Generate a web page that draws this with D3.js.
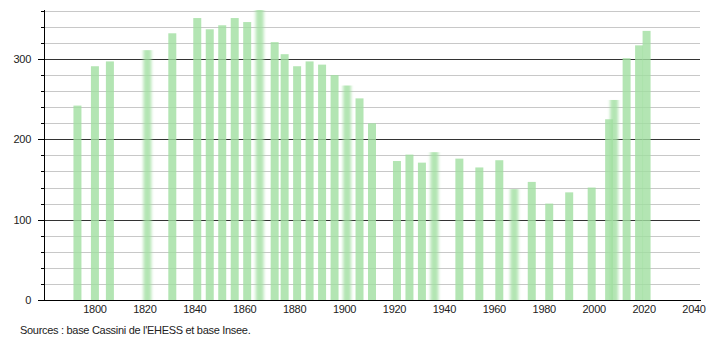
<!DOCTYPE html>
<html>
<head>
<meta charset="utf-8">
<script src="https://cdn.jsdelivr.net/npm/d3@7"></script>
<style>
  body { margin: 0; background: #fff; }
  text { font-family: "Liberation Sans", Arial, sans-serif; fill: #222; letter-spacing: -0.3px; }
</style>
</head>
<body>
<div id="my_dataviz"></div>
<script>
// census years and population
var years = [1793, 1800, 1806, 1821, 1831, 1841, 1846, 1851, 1856, 1861, 1866, 1872,
             1876, 1881, 1886, 1891, 1896, 1901, 1906, 1911, 1921, 1926, 1931, 1936,
             1946, 1954, 1962, 1968, 1975, 1982, 1990, 1999, 2006, 2008, 2013, 2018, 2021];
var population = [242, 291, 297, 311, 332, 351, 337, 342, 351, 346, 361, 321,
                  306, 291, 297, 293, 280, 267, 251, 220, 173, 181, 171, 184,
                  176, 165, 174, 138, 147, 120, 134, 140, 225, 249, 301, 317, 335];
// bars drawn soft in the original
var blurred = [1821, 1866, 1901, 1936, 1968, 2008];

var xTicks = [1800, 1820, 1840, 1860, 1880, 1900, 1920, 1940, 1960, 1980, 2000, 2020, 2040];
var yMajor = [0, 100, 200, 300];
var yMinor = d3.range(20, 361, 20).filter(function(v) { return v % 100 != 0; });
var source = "Sources : base Cassini de l'EHESS et base Insee.";

var data = years.map(function(y, i) { return {year: y, value: population[i]}; });

var width = 710, height = 340;

var svg = d3.select("#my_dataviz")
  .append("svg")
    .attr("width", width)
    .attr("height", height);

var x = d3.scaleLinear()
  .domain([1779.6, 2042.8])
  .range([44, 701]);

var y = d3.scaleLinear()
  .domain([0, 361])
  .range([300, 10]);

// soft edged bars
var defs = svg.append("defs");
defs.append("filter")
    .attr("id", "soft")
    .attr("x", "-50%").attr("width", "200%")
  .append("feGaussianBlur")
    .attr("stdDeviation", "1.8 0");

// grid lines
svg.append("g").selectAll("line")
  .data(yMinor)
  .enter().append("line")
    .attr("x1", 44).attr("x2", 700)
    .attr("y1", function(d) { return Math.round(y(d)) + 0.5; })
    .attr("y2", function(d) { return Math.round(y(d)) + 0.5; })
    .attr("stroke", "#c8c8c8");

svg.append("g").selectAll("line")
  .data(yMajor.filter(function(d) { return d > 0; }))
  .enter().append("line")
    .attr("x1", 44).attr("x2", 700)
    .attr("y1", function(d) { return Math.round(y(d)) + 0.5; })
    .attr("y2", function(d) { return Math.round(y(d)) + 0.5; })
    .attr("stroke", "#333");

// bars
var bw = 8;
svg.append("g").selectAll("rect")
  .data(data)
  .enter().append("rect")
    .attr("x", function(d) { return x(d.year) - bw / 2; })
    .attr("y", function(d) { return y(d.value); })
    .attr("width", bw)
    .attr("height", function(d) { return y(0) - y(d.value); })
    .attr("fill", "#a0dea0")
    .attr("fill-opacity", 0.8)
    .attr("filter", function(d) { return blurred.indexOf(d.year) >= 0 ? "url(#soft)" : null; });

// y axis
var yAxis = svg.append("g");
yAxis.append("line")
    .attr("x1", 44.5).attr("x2", 44.5)
    .attr("y1", 10).attr("y2", 300.5)
    .attr("stroke", "#000");
yAxis.selectAll(".minor")
  .data(yMinor)
  .enter().append("line")
    .attr("class", "minor")
    .attr("x1", 41).attr("x2", 44)
    .attr("y1", function(d) { return Math.round(y(d)) + 0.5; })
    .attr("y2", function(d) { return Math.round(y(d)) + 0.5; })
    .attr("stroke", "#000");
yAxis.selectAll(".major")
  .data(yMajor)
  .enter().append("line")
    .attr("class", "major")
    .attr("x1", 38).attr("x2", 44)
    .attr("y1", function(d) { return Math.round(y(d)) + 0.5; })
    .attr("y2", function(d) { return Math.round(y(d)) + 0.5; })
    .attr("stroke", "#000");
yAxis.selectAll("text")
  .data(yMajor)
  .enter().append("text")
    .attr("x", 31)
    .attr("y", function(d) { return y(d); })
    .attr("dy", "0.35em")
    .attr("text-anchor", "end")
    .style("font-size", "11px")
    .text(function(d) { return d; });

// x axis
var xAxis = svg.append("g");
xAxis.append("line")
    .attr("x1", 38).attr("x2", 701)
    .attr("y1", 300.5).attr("y2", 300.5)
    .attr("stroke", "#000");
xAxis.selectAll("text")
  .data(xTicks)
  .enter().append("text")
    .attr("x", function(d) { return x(d); })
    .attr("y", 313)
    .attr("text-anchor", "middle")
    .style("font-size", "11px")
    .text(function(d) { return d; });

// source note
svg.append("text")
    .attr("x", 20)
    .attr("y", 334)
    .style("font-size", "11px")
    .text(source);
</script>
</body>
</html>
